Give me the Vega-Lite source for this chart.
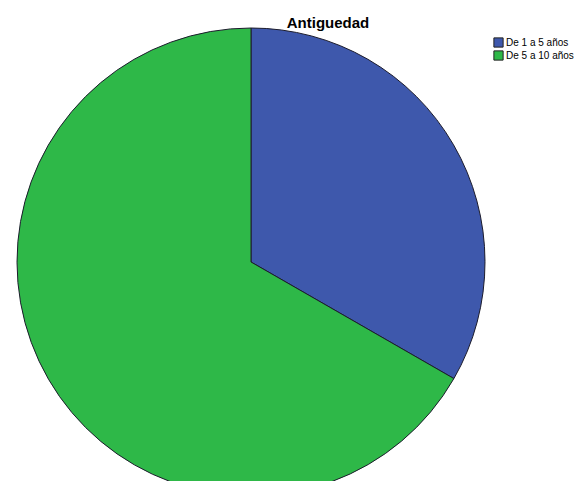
{
  "$schema": "https://vega.github.io/schema/vega-lite/v6.json",
  "autosize": {"type": "none"},
  "width": 502,
  "height": 524,
  "padding": {"left": 0, "top": 0, "right": 81, "bottom": 0},
  "background": "white",
  "title": {"text": "Antiguedad", "font": "Liberation Sans", "fontSize": 15, "fontWeight": "bold", "color": "black", "anchor": "middle", "dx": 77, "offset": -31, "baseline": "top"},
  "data": {"values": [
    {"antiguedad": "De 1 a 5 años", "porcentaje": 33.3},
    {"antiguedad": "De 5 a 10 años", "porcentaje": 66.7}
  ]},
  "mark": {"type": "arc", "outerRadius": 234, "stroke": "#1c1c2c", "strokeWidth": 1},
  "encoding": {
    "theta": {"field": "porcentaje", "type": "quantitative", "stack": true},
    "order": {"field": "antiguedad", "sort": "ascending"},
    "color": {
      "field": "antiguedad",
      "type": "nominal",
      "scale": {"domain": ["De 1 a 5 años", "De 5 a 10 años"], "range": ["#3e58ac", "#2eb848"]},
      "legend": {
        "title": null,
        "orient": "none",
        "legendX": 493,
        "legendY": 37,
        "symbolType": "square",
        "symbolSize": 85,
        "symbolStrokeColor": "#222222",
        "symbolStrokeWidth": 1,
        "symbolOpacity": 1,
        "labelFont": "Liberation Sans",
        "labelFontSize": 10,
        "labelColor": "black",
        "labelOffset": 2,
        "rowPadding": -3,
        "symbolOffset": 0,
        "padding": 0
      }
    }
  }
}
